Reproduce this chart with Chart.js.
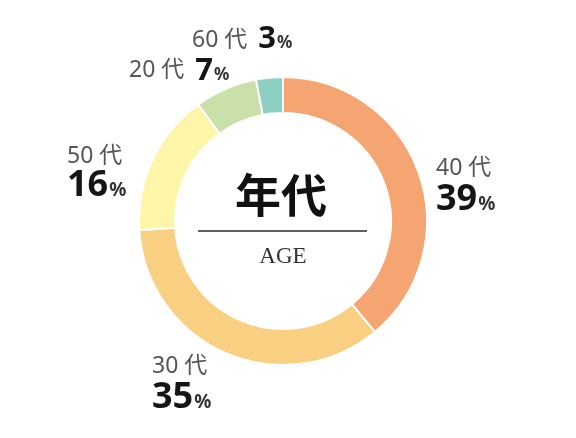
<!DOCTYPE html>
<html>
<head>
<meta charset="utf-8">
<script src="https://cdn.jsdelivr.net/npm/chart.js@4"></script>
<style>
html,body{margin:0;padding:0;background:#fff;}
#wrap{width:576px;height:438px;}
</style>
</head>
<body>
<div id="wrap"><canvas id="c" width="576" height="438"></canvas></div>
<script>
const categories = ['40 代', '30 代', '50 代', '20 代', '60 代'];
const values = [39, 35, 16, 7, 3];
const centerTitle = '年代';
const centerSub = 'AGE';
const colors = ['#F5A572', '#F9CF82', '#FDF6A8', '#C9E0A9', '#8DCFC1'];

// label layout: [x, labelBaseline, numberBaseline, mode, labelSize, numSize, pctSize]
const labelLayout = [
  {x: 436, y1: 175, y2: 210, inline: false, ls: 23, ns: 36, ps: 19},
  {x: 152, y1: 373, y2: 408, inline: false, ls: 23, ns: 36, ps: 19},
  {x: 67,  y1: 163, y2: 196, inline: false, ls: 23, ns: 36, ps: 19},
  {x: 129, y1: 77,  y2: 80,  inline: true,  ls: 23, ns: 31, ps: 17},
  {x: 192, y1: 47,  y2: 48,  inline: true,  ls: 23, ns: 31, ps: 17}
];

const SANS = "'Noto Sans', 'Noto Sans CJK JP', sans-serif";

const textPlugin = {
  id: 'texts',
  afterDraw(chart) {
    const ctx = chart.ctx;
    ctx.save();
    ctx.textBaseline = 'alphabetic';
    ctx.textAlign = 'left';
    categories.forEach((cat, i) => {
      const L = labelLayout[i];
      ctx.font = `400 ${L.ls}px ${SANS}`;
      ctx.fillStyle = '#555555';
      ctx.fillText(cat, L.x, L.y1);
      let nx = L.x;
      if (L.inline) nx = L.x + ctx.measureText(cat).width + 11;
      ctx.font = `700 ${L.ns}px ${SANS}`;
      ctx.fillStyle = '#151515';
      const num = String(values[i]);
      ctx.fillText(num, nx, L.y2);
      const w = ctx.measureText(num).width;
      ctx.font = `700 ${L.ps}px ${SANS}`;
      ctx.fillStyle = '#333333';
      ctx.fillText('%', nx + w + 1, L.y2);
    });
    // center
    ctx.textAlign = 'center';
    ctx.fillStyle = '#111111';
    ctx.font = `700 46px 'Noto Sans CJK JP', sans-serif`;
    ctx.textBaseline = 'middle';
    ctx.fillText(centerTitle, 281, 195);
    ctx.strokeStyle = '#2a2a2a';
    ctx.lineWidth = 1.5;
    ctx.beginPath();
    ctx.moveTo(198, 231);
    ctx.lineTo(367, 231);
    ctx.stroke();
    ctx.textBaseline = 'alphabetic';
    ctx.fillStyle = '#333333';
    ctx.font = `400 23px 'Liberation Serif', 'DejaVu Serif', serif`;
    ctx.fillText(centerSub, 283, 263);
    ctx.restore();
  }
};

new Chart(document.getElementById('c'), {
  type: 'doughnut',
  data: {
    labels: categories,
    datasets: [{
      data: values,
      backgroundColor: colors,
      borderColor: '#ffffff',
      borderWidth: 2
    }]
  },
  options: {
    responsive: false,
    animation: false,
    cutout: '75%',
    layout: {padding: {left: 138, right: 148, top: 76, bottom: 72}},
    plugins: {legend: {display: false}, tooltip: {enabled: false}}
  },
  plugins: [textPlugin]
});
</script>
</body>
</html>
